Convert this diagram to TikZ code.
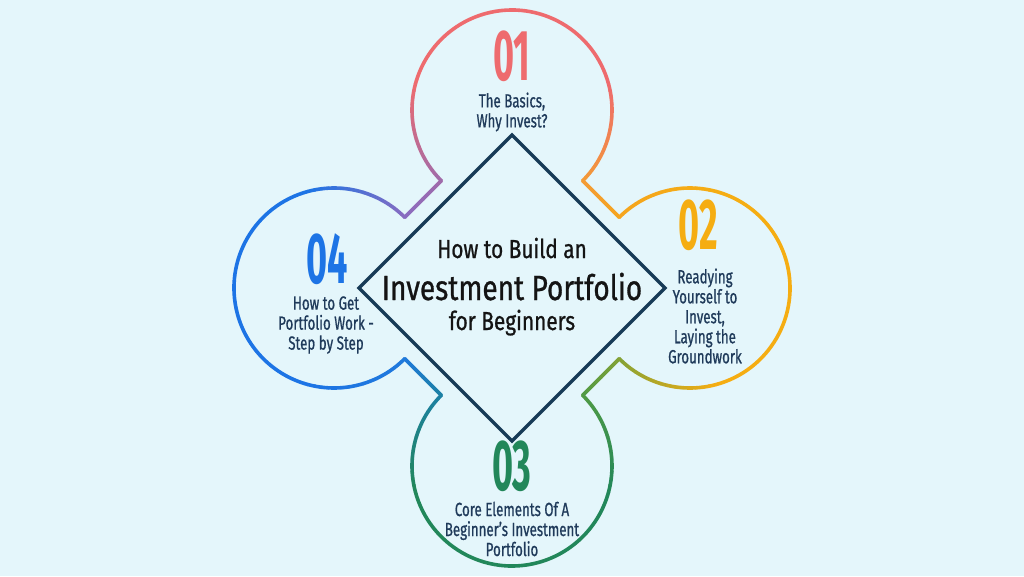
\documentclass[tikz,border=0pt]{standalone}
\usepackage{fontspec}
\setmainfont{Fira Sans}
\newfontfamily\titlefont[FakeStretch=0.8,FakeBold=0.8]{Fira Sans}
\newfontfamily\labelfont[FakeStretch=0.7,FakeBold=0.8]{Fira Sans}
\newfontfamily\numfont[FakeStretch=0.5]{Fira Sans}
\usetikzlibrary{calc}
\definecolor{bg}{HTML}{E4F6FB}
\definecolor{navy}{HTML}{173B57}
\definecolor{txt}{HTML}{1F3A5A}
\definecolor{ttl}{HTML}{141414}
\definecolor{cred}{HTML}{EE6B6E}
\definecolor{cyel}{HTML}{F5AD12}
\definecolor{cgrn}{HTML}{22875A}
\definecolor{cblu}{HTML}{1D74E5}
\definecolor{jorA}{HTML}{F39B36}
\definecolor{jorB}{HTML}{F5A51E}
\definecolor{jmau}{HTML}{A06BAA}
\definecolor{jpur}{HTML}{8A6CC0}
\definecolor{jblu}{HTML}{1F79DC}
\definecolor{jtea}{HTML}{1C80A5}
\definecolor{jgol}{HTML}{4F9A45}
\definecolor{joli}{HTML}{82A236}
\def\R{100}
\newcommand\gradarc[6]{%
  \foreach \k in {1,...,#6}{%
    \pgfmathsetmacro\angA{(#2)+((#3)-(#2))*(\k-1)/#6}%
    \pgfmathsetmacro\angB{(#2)+((#3)-(#2))*\k/#6}%
    \pgfmathtruncatemacro\mixp{round(100-100*(\k-0.5)/#6)}%
    \draw[lobe, draw=#4!\mixp!#5] (#1) ++(\angA:\R) arc[start angle=\angA, end angle=\angB, radius=\R];%
  }%
}
\newcommand\gradline[5]{%
  \foreach \k in {1,...,#5}{%
    \pgfmathsetmacro\fa{(\k-1)/#5}%
    \pgfmathsetmacro\fb{\k/#5}%
    \pgfmathtruncatemacro\mixp{round(100-100*(\k-0.5)/#5)}%
    \draw[lobe, draw=#3!\mixp!#4] ($(#1)!\fa!(#2)$) -- ($(#1)!\fb!(#2)$);%
  }%
}
\newcommand\lobearc[6]{%
  \gradarc{#1}{#2}{(#2)+60}{#4}{#5}{15}%
  \draw[lobe, draw=#5] (#1) ++({(#2)+60}:\R) arc[start angle={(#2)+60}, end angle={(#3)-60}, radius=\R];%
  \gradarc{#1}{(#3)-60}{#3}{#5}{#6}{15}%
}
\begin{document}
\begin{tikzpicture}[x=1pt,y=1pt,
  lobe/.style={line width=3.6pt, line cap=round, line join=round},
  diamondline/.style={draw=navy, line width=3.2pt, line join=miter},
  labeltext/.style={text=txt, align=center, inner sep=0pt, font=\labelfont\fontsize{19}{20}\selectfont},
  numtext/.style={inner sep=0pt, font=\numfont\bfseries\fontsize{72}{72}\selectfont},
  titletext/.style={text=ttl, inner sep=0pt, anchor=base}]
\fill[bg] (-512,-288) rectangle (512,288);
\useasboundingbox (-512,-288) rectangle (512,288);
% circle centres
\coordinate (T) at (0,178);
\coordinate (L) at (-178,0);
\coordinate (B) at (0,-178);
\coordinate (Rt) at (178,0);
% neck points
\coordinate (tl1) at ($(T)+(225:\R)$);
\coordinate (tl2) at ($(L)+(45:\R)$);
\coordinate (bl1) at ($(L)+(315:\R)$);
\coordinate (bl2) at ($(B)+(135:\R)$);
\coordinate (br1) at ($(B)+(45:\R)$);
\coordinate (br2) at ($(Rt)+(225:\R)$);
\coordinate (tr1) at ($(Rt)+(135:\R)$);
\coordinate (tr2) at ($(T)+(-45:\R)$);
% diamond
\coordinate (dT) at (0,153);
\coordinate (dL) at (-153,0);
\coordinate (dB) at (0,-153);
\coordinate (dR) at (153,0);
\draw[diamondline] (dT) -- (dR) -- (dB) -- (dL) -- cycle;
% lobes
\lobearc{T}{-45}{225}{jorA}{cred}{jmau}
\gradline{tl1}{tl2}{jmau}{jpur}{8}
\lobearc{L}{45}{315}{jpur}{cblu}{jblu}
\gradline{bl1}{bl2}{jblu}{jtea}{8}
\lobearc{B}{135}{405}{jtea}{cgrn}{jgol}
\gradline{br1}{br2}{jgol}{joli}{8}
\lobearc{Rt}{225}{495}{joli}{cyel}{jorB}
\gradline{tr1}{tr2}{jorB}{jorA}{8}
% numbers
\node[numtext, text=cred] (n1) at (0,232) {01};
\node[numtext, text=cyel] (n2) at (186,63) {02};
\node[numtext, text=cgrn] (n3) at (0,-178) {03};
\node[numtext, text=cblu] (n4) at (-185,29) {04};
% labels
\node[labeltext] (t1) at (0,176) {The Basics,\\Why Invest?};
\node[labeltext] (t2) at (193,-28) {Readying\\Yourself to\\Invest,\\Laying the\\Groundwork};
\node[labeltext] (t3) at (0,-241) {Core Elements Of A\\Beginner’s Investment\\Portfolio};
\node[labeltext] (t4) at (-186,-37) {How to Get\\Portfolio Work -\\Step by Step};
% title
\node[titletext, font=\titlefont\fontsize{26}{26}\selectfont] (h1) at (0,30) {How to Build an};
\node[titletext, font=\titlefont\fontsize{35}{35}\selectfont] (h2) at (0,-12) {Investment Portfolio};
\node[titletext, font=\titlefont\fontsize{26}{26}\selectfont] (h3) at (0,-42) {for Beginners};
\end{tikzpicture}
\end{document}
